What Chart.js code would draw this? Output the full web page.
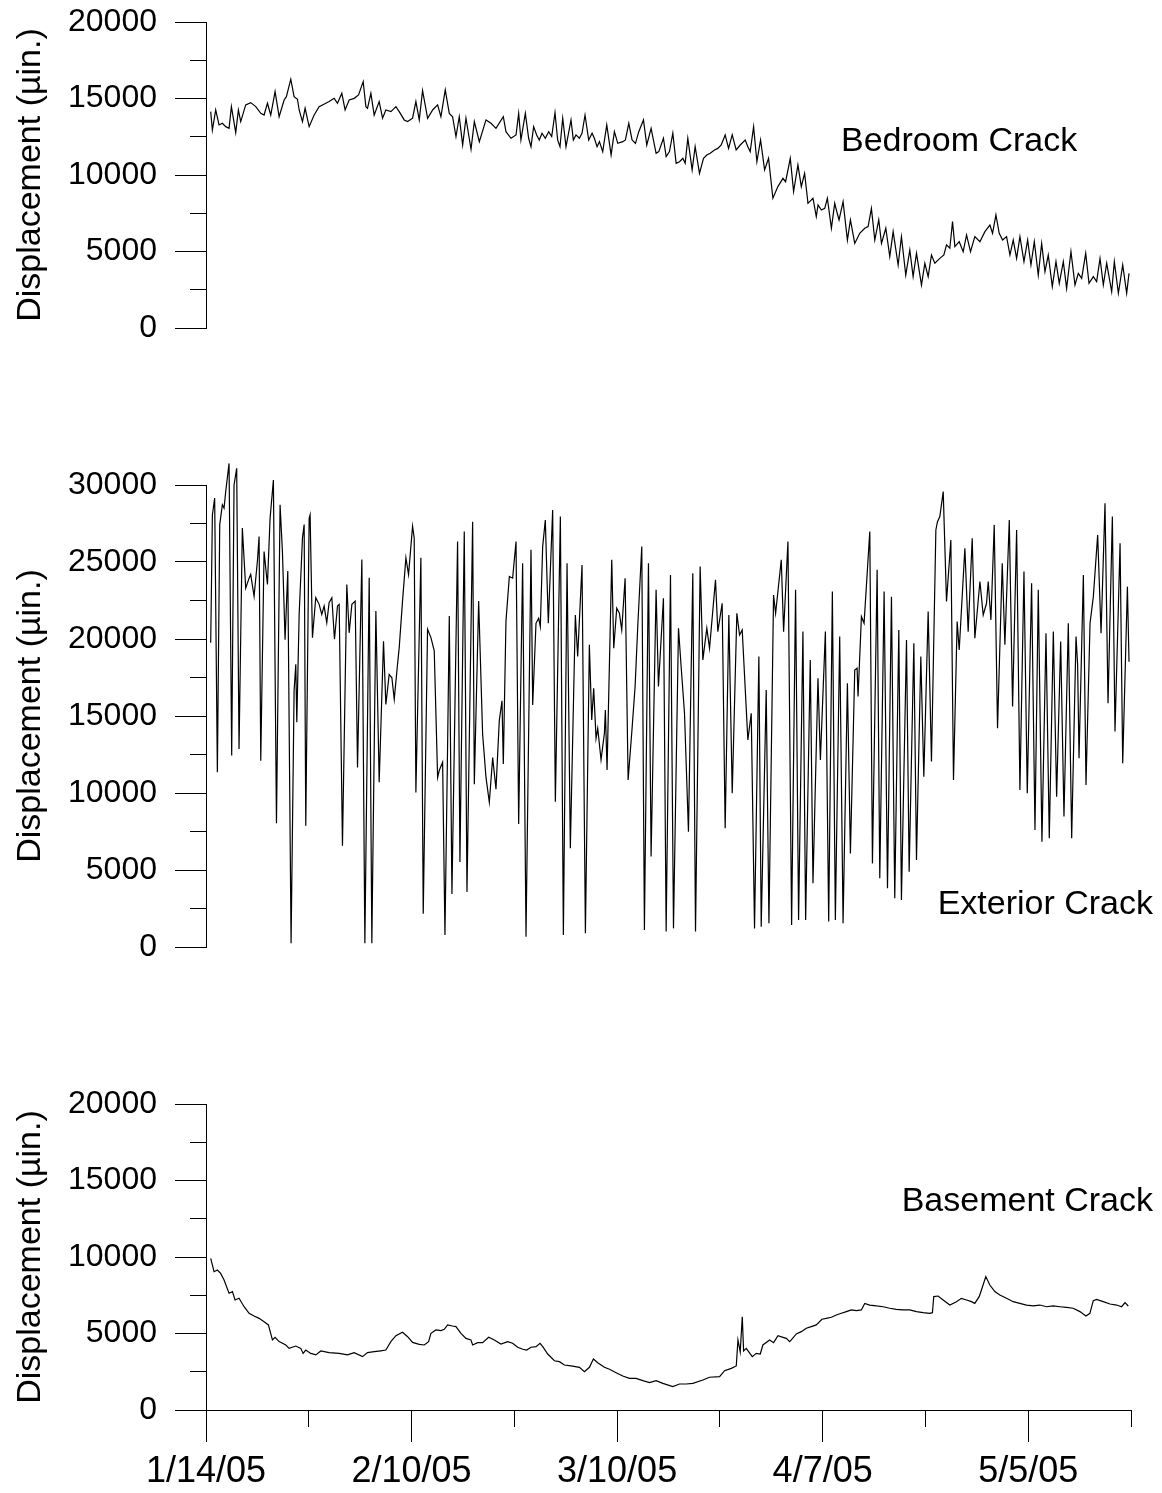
<!DOCTYPE html>
<html>
<head>
<meta charset="utf-8">
<script src="https://cdn.jsdelivr.net/npm/chart.js@4.4.1/dist/chart.umd.min.js"></script>
<style>
  html, body { margin: 0; padding: 0; background: #fff; }
  body { width: 1162px; height: 1493px; position: relative; overflow: hidden; }
  canvas { position: absolute; left: 0; display: block; }
</style>
</head>
<body>
<canvas id="bedroom" width="1162" height="358" style="top:0px"></canvas>
<canvas id="exterior" width="1162" height="522" style="top:455px"></canvas>
<canvas id="basement" width="1162" height="419" style="top:1074px"></canvas>
<script>
// x = days since 1/14/05
const xTickLabels = ['1/14/05', '2/10/05', '3/10/05', '4/7/05', '5/5/05'];

const bedroomDays = [0.64,0.87,1.32,1.78,2.23,2.69,3.14,3.46,4.05,4.41,4.73,5.41,6.09,6.78,7.46,7.91,8.37,8.82,9.41,9.96,
  10.64,10.95,11.55,12.0,12.46,12.69,13.14,13.5,14.05,14.73,15.41,16.32,16.77,17.46,17.91,18.5,18.95,19.5,20.19,20.78,
  21.41,21.78,22.0,22.46,22.91,23.59,24.05,24.5,25.19,25.87,26.32,27.0,27.46,28.14,28.59,29.05,29.5,30.19,30.87,31.55,
  32.0,32.59,33.14,33.59,34.05,34.5,34.96,35.41,36.1,36.55,37.23,38.14,38.82,39.5,40.5,40.86,41.55,42.23,42.59,
  42.9,43.5,43.95,44.27,44.63,45.04,45.4,45.77,46.22,46.68,47.09,47.54,47.9,48.22,48.59,49.04,49.72,50.04,50.4,50.86,
  51.22,51.63,52.13,52.59,52.9,53.27,53.59,54.04,54.59,55.18,55.63,56.09,56.77,57.13,57.59,58.04,58.5,58.95,59.59,60.04,
  60.63,61.31,61.68,62.31,62.68,63.13,63.59,64.04,64.5,64.95,65.27,65.63,66.22,66.63,67.22,67.77,68.22,68.68,69.27,69.72,
  70.18,70.72,71.18,71.68,72.22,72.77,73.45,73.81,74.13,74.59,75.04,75.54,76.09,76.63,77.22,77.9,78.59,78.95,79.59,80.04,
  80.63,81.09,81.54,82.0,82.68,83.13,
  83.37,83.82,84.28,84.64,85.19,85.64,85.87,86.23,86.78,87.37,87.78,88.37,89.05,89.73,90.19,90.64,91.1,91.64,92.01,92.6,
  93.14,93.6,94.28,94.73,95.32,95.87,96.32,96.78,97.46,97.92,98.37,98.82,99.28,99.96,100.51,100.87,101.32,101.69,102.01,102.6,
  103.14,103.6,104.14,104.73,105.42,106.1,106.78,107.14,107.6,108.05,108.51,109.05,109.51,109.96,110.42,110.87,111.42,111.92,112.37,112.83,
  113.37,113.83,114.28,114.73,115.28,115.78,116.23,116.78,117.23,117.82,118.37,118.82,119.28,119.83,120.28,120.87,121.32,121.78,122.23,122.69,
  123.37,123.73,124.28,124.87,125.41,125.73];
const bedroomVals = [14140,12940,14250,13270,13380,13160,13050,14470,12770,14250,13490,14580,14730,14470,14030,13920,14690,13920,15450,13810,
  14900,15120,16260,15120,14950,14250,13490,14360,13160,13920,14470,14690,14800,15010,14690,15340,14250,14900,15010,15230,
  16100,14470,14360,15340,13920,14800,13710,14250,14140,14470,14140,13600,13490,13710,14800,13600,15510,13710,14250,14580,
  13810,15560,14030,13810,12510,13810,11960,13710,11680,13490,12180,13600,13380,13050,13810,12830,12400,12620,14030,
  12290,14030,12400,11850,13160,12620,12290,12730,12400,12830,12510,14080,12290,11850,13710,11850,13600,12290,12620,12400,
  12730,13920,12290,12730,12400,11850,12180,11530,13270,11310,12830,12070,12180,12290,13380,12290,12070,12830,13600,11960,
  13050,11420,11530,12400,11200,11530,12730,10760,10870,11090,10760,12400,10330,11850,10110,11090,11310,11420,11640,11740,
  11960,12620,11740,12620,11640,11960,12290,11850,11530,13160,10870,12290,10330,11090,8480,9240,9780,9560,11090,8910,
  10660,9240,10110,8150,8480,7280,
  8040,7710,7820,8480,6520,8150,7710,7060,8260,5750,7060,5530,6190,6520,6630,7820,5750,7060,5530,6520,
  4660,6300,4120,5970,3460,5100,3360,4880,2810,4230,3360,4770,4230,4550,4770,5430,5210,6950,5320,5640,
  4990,6080,4990,5970,5640,6300,6730,6190,7390,6190,5750,5970,4770,5750,4550,5970,4340,5750,4120,5640,
  3460,5530,3680,4770,2700,4340,2920,4340,2590,4990,2810,3570,3240,4880,2920,3360,3030,4550,2810,4230,
  2370,4340,2270,4120,2270,3570];

const exteriorDays = [0.64,0.87,1.18,1.55,1.87,2.23,2.46,2.69,3.14,3.5,3.82,4.18,4.5,4.95,5.41,5.87,6.09,6.55,7.0,7.23,
  7.46,7.91,8.37,8.73,9.18,9.6,10.09,10.41,10.77,11.14,11.59,12.0,12.23,12.37,12.69,13.14,13.37,13.59,14.05,14.18,
  14.5,14.95,15.41,15.77,16.09,16.45,16.77,17.14,17.5,17.91,18.14,18.59,19.18,19.5,19.87,20.32,20.64,21.23,21.64,22.23,
  22.59,23.14,23.59,24.18,24.5,24.95,25.32,25.64,26.09,26.32,26.77,27.23,27.59,28.14,28.36,28.59,29.27,29.59,30.18,30.64,
  31.09,31.55,31.77,32.23,32.55,32.91,33.14,33.5,34.27,34.59,35.18,35.55,36.32,36.55,37.14,37.68,38.14,38.59,39.05,39.5,
  39.95,40.32,40.5,40.86,41.32,41.77,42.23,42.59,
  43.13,43.59,44.27,44.5,44.95,45.31,45.54,45.86,46.22,46.63,47.22,47.59,48.27,48.68,49.18,49.63,50.31,50.63,51.22,51.68,
  52.22,52.54,52.81,53.13,53.36,53.81,54.27,54.4,54.63,55.27,55.54,55.95,56.31,56.63,57.09,57.5,58.04,58.45,58.81,59.36,
  59.72,60.27,60.63,61.31,61.63,62.31,62.68,63.27,63.68,64.36,64.72,65.18,65.72,66.31,66.68,67.31,67.68,68.22,68.59,69.4,
  69.72,70.31,70.72,71.22,71.68,72.31,72.68,73.04,73.81,74.27,74.72,75.31,75.63,76.31,76.68,77.31,77.59,78.36,78.68,79.27,
  79.77,80.31,80.72,81.31,81.68,82.31,82.68,83.36,
  83.69,84.37,84.82,85.32,85.73,86.32,86.78,87.37,87.78,88.37,88.69,88.82,89.28,89.64,90.42,90.78,91.42,91.78,92.37,92.83,
  93.37,93.82,94.37,94.73,95.42,95.78,96.42,96.78,97.37,97.78,98.37,98.82,99.42,99.64,99.96,100.42,100.87,101.46,101.82,102.32,
  102.6,103.37,103.82,104.37,104.73,105.42,105.87,106.32,106.55,106.92,107.37,107.82,108.46,108.82,109.42,109.87,110.42,110.87,111.42,111.87,
  112.46,112.92,113.37,113.87,114.42,114.87,115.42,115.87,116.42,116.87,117.46,117.92,118.51,118.73,118.92,119.51,119.87,120.42,120.87,121.46,
  121.92,122.46,122.87,123.46,123.82,124.51,124.87,125.51,125.73];
const exteriorVals = [19750,28050,29150,11350,27430,28720,28500,29590,31400,12430,30000,31080,12860,27200,23300,23950,24190,22770,25050,26650,
  12090,25680,23540,27840,30320,8030,28720,25680,19960,24410,240,16620,18360,14590,21600,26560,27430,7880,27840,28060,
  20090,22680,22250,21600,22140,21060,22360,22680,19980,22140,22250,6580,23540,20400,22250,22460,11650,25160,240,23970,
  240,21820,10700,19850,15750,17700,17480,16080,18360,19440,22460,25270,24190,27320,26560,10030,25270,2160,20630,20090,
  19230,11010,11460,12000,780,13080,21500,3450,26330,5520,26980,3580,27620,10570,22460,13830,11010,9400,12300,10250,
  14700,15990,11890,21150,24060,23950,26330,7990,
  24920,670,25790,15720,21020,21350,20800,26000,27730,21020,28380,9440,27950,780,24920,6410,21560,18860,24810,890,
  19620,14740,16800,13550,14200,12150,13880,15390,11500,25140,19400,22000,21670,20590,23950,10850,14200,16910,20800,26000,
  1100,24920,5870,23190,16910,22650,1000,24160,1210,20700,18210,15180,7490,24270,1000,24700,18640,20700,19400,23840,
  20480,22320,7710,21560,9980,21670,20260,20590,13440,15180,1210,18860,1320,16690,1540,22860,21670,25140,20480,26330,
  1430,23190,1750,20480,1750,18640,4140,17450,
  12150,20480,1650,23080,1750,20160,1540,17120,6080,17990,18100,16260,21450,21020,26980,5430,24490,4460,23080,3810,
  22750,3160,20590,3050,19940,4890,19720,5650,18860,11060,21780,12040,27080,27620,27950,29570,22430,26430,10850,21130,
  19290,25890,20480,26540,20050,23730,21560,22320,23730,21240,27410,14200,24920,19620,27730,15610,27080,10200,24380,9980,
  23620,7600,23190,6840,20370,7060,20480,9760,19830,8470,21020,7060,20160,18320,12250,24160,10520,21020,22750,26760,
  20370,28820,15830,27950,13990,26220,11930,23400,18530];

const basementDays = [0.64,1.1,1.55,2.0,2.46,3.14,3.6,3.96,4.5,5.19,5.87,6.55,7.23,7.91,8.5,9.05,9.41,9.96,10.87,
  11.32,12.23,12.91,13.23,13.59,14.27,14.96,15.64,16.77,18.14,19.27,20.18,21.32,22.0,22.91,23.82,24.5,25.18,25.87,26.77,
  27.46,28.14,29.05,29.73,30.32,30.64,31.32,32.0,32.46,32.91,33.59,34.05,34.73,35.41,36.09,36.32,37.0,37.68,38.5,39.27,
  40.18,41.09,41.77,42.46,43.14,43.68,44.27,44.96,45.5,45.87,46.55,47.46,48.14,48.82,49.73,50.87,51.55,52.23,52.77,53.36,
  54.27,54.96,55.86,56.77,57.68,58.59,59.5,60.41,61.32,62.23,63.59,64.5,65.41,66.32,67.68,68.59,69.96,70.64,71.55,72.23,
  72.46,72.77,73.05,73.23,73.59,74.41,74.96,75.5,75.86,76.77,77.32,77.91,78.59,79.05,79.5,
  79.73,80.41,81.09,81.77,82.45,83.13,83.9,84.5,85.18,85.86,86.54,87.23,87.91,88.59,89.27,89.73,90.41,91.32,92.23,93.14,
  94.04,94.95,95.86,96.77,97.68,98.59,98.95,99.13,99.72,100.41,101.32,102.23,102.9,103.59,104.27,104.72,105.32,105.63,106.22,106.77,
  107.45,108.13,109.04,109.95,110.86,111.77,112.68,113.59,114.5,115.4,116.32,117.22,118.13,119.04,119.86,120.4,120.86,121.31,122.22,123.13,
  124.04,124.72,125.18,125.63];
const basementVals = [9910,9040,9150,8930,8500,7630,7740,7190,7300,6750,6320,6140,5990,5770,5560,4580,4750,4470,4250,
  4030,4180,4030,3700,3920,3700,3600,3860,3750,3700,3600,3750,3490,3750,3810,3870,3920,4470,4860,5080,
  4790,4420,4290,4250,4470,5010,5230,5190,5270,5560,5490,5450,5010,4680,4580,4250,4400,4400,4750,4580,
  4310,4470,4360,4100,3970,3920,4100,4140,4360,4140,3660,3220,3160,2940,2880,2790,2500,2790,3330,3090,
  2790,2660,2440,2220,2070,2070,1920,1790,1920,1740,1530,1700,1700,1740,1960,2140,2180,2570,2720,2880,
  4580,3800,6100,3860,4030,3490,3700,3660,4250,4580,4400,4860,4750,4680,4470,
  4580,4970,5120,5340,5450,5560,5930,5990,6060,6210,6320,6430,6540,6490,6540,6970,6860,6800,6750,6650,
  6580,6540,6540,6430,6360,6320,6360,7410,7450,7190,6860,7080,7300,7190,7080,6970,7410,7840,8720,8170,
  7740,7520,7300,7080,6970,6860,6800,6860,6750,6800,6750,6710,6650,6430,6140,6320,7150,7230,7080,6930,
  6860,6750,7020,6800];

const FONT = '"Liberation Sans", Arial, Helvetica, sans-serif';
Chart.defaults.font.family = FONT;
Chart.defaults.color = '#000';

// text label inside each panel
const panelLabel = {
  id: 'panelLabel',
  afterDraw(chart, args, opts) {
    const ctx = chart.ctx;
    ctx.save();
    ctx.font = '34px ' + FONT;
    ctx.fillStyle = '#000';
    ctx.textAlign = opts.align;
    ctx.textBaseline = 'alphabetic';
    ctx.fillText(opts.text, opts.x, opts.y);
    ctx.restore();
  }
};

function makeChart(id, days, vals, yMax, showX, padding, label) {
  const ctx = document.getElementById(id).getContext('2d');
  return new Chart(ctx, {
    type: 'line',
    data: {
      datasets: [{
        data: days.map((d, i) => ({x: d, y: vals[i]})),
        borderColor: '#000',
        borderWidth: 1.2,
        pointRadius: 0,
        tension: 0,
        fill: false,
        clip: false
      }]
    },
    options: {
      responsive: false,
      animation: false,
      layout: {padding: padding},
      plugins: {
        legend: {display: false},
        tooltip: {enabled: false},
        panelLabel: label
      },
      scales: {
        x: {
          type: 'linear',
          min: 0,
          max: 126,
          display: showX,
          afterFit: s => {
            if (showX) s.height = 83;
          },
          ticks: {
            stepSize: 14,
            autoSkip: false,
            maxRotation: 0,
            minRotation: 0,
            padding: 8,
            color: '#000',
            font: {size: 36},
            callback: v => (v % 28 === 0 ? xTickLabels[v / 28] : '')
          },
          grid: {
            drawOnChartArea: false,
            tickLength: 32,
            tickColor: '#000',
            tickWidth: 1,
            tickBorderDash: c => (c.tick && c.tick.value % 28 ? [16, 100] : [])
          },
          border: {display: true, color: '#000', width: 1}
        },
        y: {
          min: 0,
          max: yMax,
          afterFit: s => {
            s.width = 206;
            // let the layout padding decide where the plot area starts
            s.paddingTop = 0;
            s.paddingBottom = 0;
          },
          ticks: {
            stepSize: 2500,
            autoSkip: false,
            padding: 18,
            color: '#000',
            font: {size: 32},
            callback: v => (v % 5000 === 0 ? String(v) : '')
          },
          grid: {
            drawOnChartArea: false,
            tickLength: 31,
            tickColor: '#000',
            tickWidth: 1,
            tickBorderDash: c => (c.tick && c.tick.value % 5000 ? [0, 15, 40] : [])
          },
          border: {display: true, color: '#000', width: 1},
          title: {
            display: true,
            text: 'Displacement (µin.)',
            color: '#000',
            font: {size: 34},
            padding: {top: 10, bottom: 0}
          }
        }
      }
    },
    plugins: [panelLabel]
  });
}

makeChart('bedroom', bedroomDays, bedroomVals, 20000, false,
  {left: 0, right: 31, top: 22, bottom: 30},
  {text: 'Bedroom Crack', x: 841, y: 151, align: 'left'});
makeChart('exterior', exteriorDays, exteriorVals, 30000, false,
  {left: 0, right: 31, top: 30, bottom: 30},
  {text: 'Exterior Crack', x: 1153, y: 459, align: 'right'});
makeChart('basement', basementDays, basementVals, 20000, true,
  {left: 0, right: 31, top: 30, bottom: 0},
  {text: 'Basement Crack', x: 1153, y: 137, align: 'right'});
</script>
</body>
</html>
